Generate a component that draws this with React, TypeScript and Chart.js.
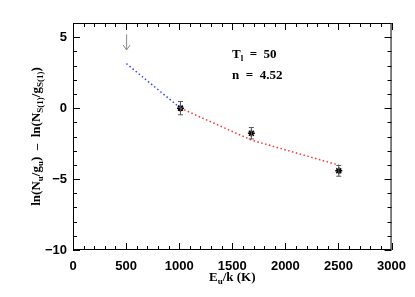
import React, { useEffect, useRef } from "react";
import { Chart, registerables } from "chart.js";

Chart.register(...registerables);

const X_TICKS = [0, 500, 1000, 1500, 2000, 2500, 3000];
const Y_TICKS = [-10, -5, 0, 5];
const POINT_X = [1012, 1680, 2503];
const POINT_Y = [0, -1.77, -4.42];
const POINT_ERR = [0.47, 0.4, 0.38];
const BLUE_FIT_X = [503, 1012];
const BLUE_FIT_Y = [3.14, 0];
const RED_FIT_X = [1012, 1680, 2503];
const RED_FIT_Y = [0, -2.25, -4.02];
const ARROW_X = 505;
const ARROW_Y = [5.2, 4.1];

const SERIF = '"Liberation Serif", "DejaVu Serif", serif';
const SANS = '"Liberation Sans", Arial, sans-serif';

function drawSub(ctx: CanvasRenderingContext2D, parts: [string, boolean][], x: number, y: number, size: number) {
  let cx = x;
  for (const [t, sub] of parts) {
    ctx.font = `bold ${sub ? Math.round(size * 0.68) : size}px ${SERIF}`;
    ctx.fillText(t, cx, sub ? y + size * 0.25 : y);
    cx += ctx.measureText(t).width;
  }
  return cx - x;
}
function measureSub(ctx: CanvasRenderingContext2D, parts: [string, boolean][], size: number) {
  let w = 0;
  for (const [t, sub] of parts) {
    ctx.font = `bold ${sub ? Math.round(size * 0.68) : size}px ${SERIF}`;
    w += ctx.measureText(t).width;
  }
  return w;
}

const decorPlugin = {
  id: "decor",
  afterDatasetsDraw(chart: any) {
    const ctx = chart.ctx as CanvasRenderingContext2D;
    const xs = chart.scales.x;
    const ys = chart.scales.y;
    const { left, right, top, bottom } = chart.chartArea;
    ctx.save();
    // box
    ctx.strokeStyle = "#000";
    ctx.lineWidth = 1;
    ctx.strokeRect(left + 0.5, top + 0.5, right - left - 1, bottom - top - 1);
    // ticks
    ctx.beginPath();
    for (let v = 0; v <= 3000; v += 100) {
      const px = Math.round(xs.getPixelForValue(v)) + 0.5;
      const len = v % 500 === 0 ? 7 : 4;
      ctx.moveTo(px, bottom);
      ctx.lineTo(px, bottom - len);
      ctx.moveTo(px, top);
      ctx.lineTo(px, top + len);
    }
    for (let v = -10; v <= 6; v += 1) {
      const py = Math.round(ys.getPixelForValue(v)) + 0.5;
      const len = v % 5 === 0 ? 7 : 4;
      ctx.moveTo(left, py);
      ctx.lineTo(left + len, py);
      ctx.moveTo(right, py);
      ctx.lineTo(right - len, py);
    }
    ctx.stroke();

    // error bars
    ctx.strokeStyle = "#555";
    ctx.lineWidth = 1;
    POINT_X.forEach((x, i) => {
      const px = xs.getPixelForValue(x);
      const p1 = ys.getPixelForValue(POINT_Y[i] + POINT_ERR[i]);
      const p2 = ys.getPixelForValue(POINT_Y[i] - POINT_ERR[i]);
      ctx.beginPath();
      ctx.moveTo(px, p1);
      ctx.lineTo(px, p2);
      ctx.moveTo(px - 2.5, p1);
      ctx.lineTo(px + 2.5, p1);
      ctx.moveTo(px - 2.5, p2);
      ctx.lineTo(px + 2.5, p2);
      ctx.stroke();
    });

    // arrow
    const ax = xs.getPixelForValue(ARROW_X);
    const ay1 = ys.getPixelForValue(ARROW_Y[0]);
    const ay2 = ys.getPixelForValue(ARROW_Y[1]);
    ctx.strokeStyle = "#888";
    ctx.beginPath();
    ctx.moveTo(ax, ay1);
    ctx.lineTo(ax, ay2);
    ctx.moveTo(ax - 3.5, ay2 - 5);
    ctx.lineTo(ax, ay2);
    ctx.lineTo(ax + 3.5, ay2 - 5);
    ctx.stroke();

    // annotations
    ctx.fillStyle = "#000";
    ctx.textBaseline = "alphabetic";
    ctx.textAlign = "left";
    drawSub(ctx, [["T", false], ["l", true], ["  =  50", false]], 232, 58, 13);
    drawSub(ctx, [["n  =  4.52", false]], 232, 79, 13);

    // x title
    const xt: [string, boolean][] = [["E", false], ["u", true], ["/k (K)", false]];
    const wx = measureSub(ctx, xt, 13);
    drawSub(ctx, xt, (left + right) / 2 - wx / 2, 281, 13);

    // y title
    const yt: [string, boolean][] = [
      ["ln(N", false], ["u", true], ["/g", false], ["u", true], [")  \u2013  ln(N", false],
      ["S(1)", true], ["/g", false], ["S(1)", true], [")", false],
    ];
    const wy = measureSub(ctx, yt, 13);
    ctx.translate(40, (top + bottom) / 2);
    ctx.rotate(-Math.PI / 2);
    drawSub(ctx, yt, -wy / 2, 0, 13);
    ctx.restore();
  },
};

export default function App() {
  const ref = useRef<HTMLCanvasElement>(null);
  useEffect(() => {
    document.body.style.margin = "0";
    const chart = new Chart(ref.current!, {
      type: "scatter",
      data: {
        datasets: [
          {
            data: BLUE_FIT_X.map((x, i) => ({ x, y: BLUE_FIT_Y[i] })),
            showLine: true,
            borderColor: "#3344ff",
            borderWidth: 1.5,
            borderDash: [1.5, 2.5],
            pointRadius: 0,
          },
          {
            data: RED_FIT_X.map((x, i) => ({ x, y: RED_FIT_Y[i] })),
            showLine: true,
            borderColor: "#ff3333",
            borderWidth: 1.5,
            borderDash: [1.5, 2.5],
            pointRadius: 0,
          },
          {
            data: POINT_X.map((x, i) => ({ x, y: POINT_Y[i] })),
            showLine: false,
            pointStyle: "star",
            pointRadius: 3.5,
            borderColor: "#000",
            backgroundColor: "#000",
            borderWidth: 1.5,
          },
        ],
      },
      options: {
        animation: false,
        responsive: false,
        events: [],
        layout: { padding: { left: 0, top: 23, right: 22, bottom: 0 } },
        plugins: { legend: { display: false }, tooltip: { enabled: false } },
        scales: {
          x: {
            type: "linear",
            min: 0,
            max: 3000,
            grid: { display: false, drawTicks: false },
            border: { display: false },
            afterBuildTicks: (s: any) => { s.ticks = X_TICKS.map((v) => ({ value: v })); },
            afterFit: (s: any) => { s.height = 47; },
            ticks: {
              padding: 9,
              maxRotation: 0,
              color: "#000",
              font: { family: SANS, size: 13, weight: "bold" },
              callback: (v: any) => String(v),
            },
          },
          y: {
            type: "linear",
            min: -10,
            max: 6,
            grid: { display: false, drawTicks: false },
            border: { display: false },
            afterBuildTicks: (s: any) => { s.ticks = Y_TICKS.map((v) => ({ value: v })); },
            afterFit: (s: any) => { s.width = 73; },
            ticks: {
              padding: 6,
              color: "#000",
              font: { family: SANS, size: 13, weight: "bold" },
              callback: (v: any) => String(v).replace("-", "\u2212"),
            },
          },
        },
      },
      plugins: [decorPlugin],
    });
    return () => chart.destroy();
  }, []);
  return (
    <div style={{ position: "fixed", left: 0, top: 0, width: 415, height: 297, background: "#fff" }}>
      <canvas ref={ref} width={415} height={297} />
    </div>
  );
}
